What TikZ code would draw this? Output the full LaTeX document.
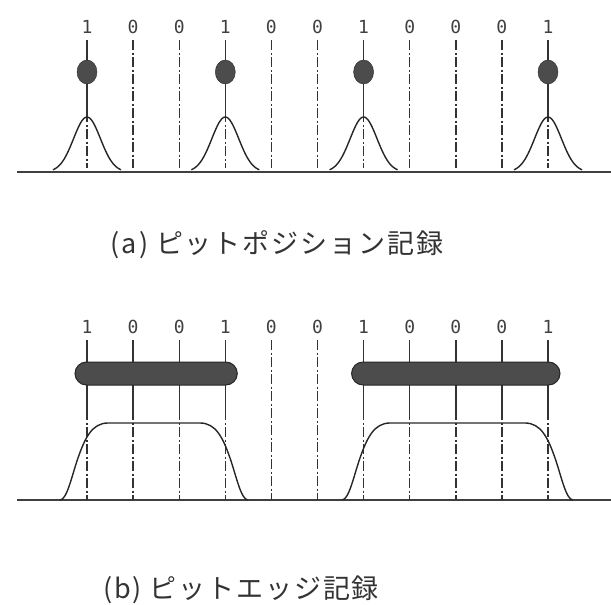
\documentclass[tikz,border=0pt]{standalone}
\usepackage{fontspec}
\usetikzlibrary{shapes.geometric}
\newfontfamily\jpfont[LetterSpace=7]{Noto Sans CJK JP}
\newfontfamily\bitfont{DejaVu Sans Mono}
\begin{document}
\begin{tikzpicture}[x=1pt,y=-1pt,
  bit/.style={font=\bitfont\fontsize{18}{18}\selectfont,text=black!75,inner sep=0pt},
  clock/.style={draw=black!80,line width=1.4pt,dash pattern=on 10pt off 2.5pt on 2pt off 2.5pt},
  solidclock/.style={draw=black!80,line width=1.4pt},
  ground/.style={draw=black!75,line width=1.5pt},
  signal/.style={draw=black!85,line width=1.4pt},
  pitdot/.style={ellipse,draw=black!85,fill=black!70,minimum width=20pt,minimum height=24pt,inner sep=0pt},
  pitbar/.style={draw=black!85,fill=black!70,line width=1pt,rounded corners=11.5pt},
  caption/.style={font=\jpfont\fontsize{27}{27}\selectfont,text=black!80,inner sep=0pt}]
  \useasboundingbox (0,0) rectangle (611,605);
  % (a) pit position recording
  \coordinate (agl) at (17,172);
  \coordinate (agr) at (611,172);
  \draw[ground] (agl) -- (agr);
  \foreach \b [count=\i from 0] in {1,0,0,1,0,0,1,0,0,0,1} {
    \pgfmathsetmacro\cx{87+46.1*\i}
    \node[bit] (abit\i) at (\cx,27) {\b};
    \coordinate (atop\i) at (\cx,40);
    \coordinate (afoot\i) at (\cx,168);
    \ifnum\b=1
      \coordinate (amid\i) at (\cx,112);
      \draw[solidclock] (atop\i) -- (amid\i);
      \draw[clock] (amid\i) -- (afoot\i);
      \draw[signal] plot[domain=-34:34,samples=45,smooth,variable=\t]
        ({\cx+\t},{172-55*exp(-((\t/19)^2))});
      \node[pitdot] (apit\i) at (\cx,72) {};
    \else
      \draw[clock] (atop\i) -- (afoot\i);
    \fi
  }
  \node[caption] (acap) at (277,245) {(a) ピットポジション記録};
  % (b) pit edge recording
  \coordinate (bgl) at (17,500);
  \coordinate (bgr) at (611,500);
  \draw[ground] (bgl) -- (bgr);
  \foreach \b [count=\i from 0] in {1,0,0,1,0,0,1,0,0,0,1} {
    \pgfmathsetmacro\cx{87+46.1*\i}
    \pgfmathtruncatemacro\inbar{(\i<4)||(\i>5)}
    \node[bit] (bbit\i) at (\cx,327) {\b};
    \coordinate (btop\i) at (\cx,340);
    \coordinate (bfoot\i) at (\cx,500);
    \ifnum\inbar=1
      \coordinate (bmid\i) at (\cx,410);
      \draw[solidclock] (btop\i) -- (bmid\i);
      \draw[clock] (bmid\i) -- (bfoot\i);
    \else
      \draw[clock] (btop\i) -- (bfoot\i);
    \fi
  }
  \path[pitbar] (75,362) rectangle (237.3,385);
  \path[pitbar] (351.6,362) rectangle (560,385);
  \foreach \l/\r in {60/248,342/573}
    \draw[signal] (\l,500) .. controls (\l+7,500) and (\l+12,475) .. (\l+18,458)
      .. controls (\l+25,438) and (\l+32,423) .. (\l+48,423) -- (\r-48,423)
      .. controls (\r-32,423) and (\r-25,438) .. (\r-18,458)
      .. controls (\r-12,475) and (\r-7,500) .. (\r,500);
  \node[caption] (bcap) at (241,590) {(b) ピットエッジ記録};
\end{tikzpicture}
\end{document}
